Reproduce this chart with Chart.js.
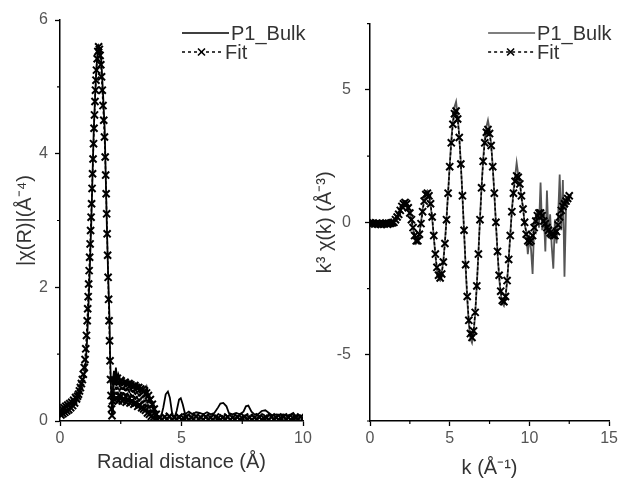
<!DOCTYPE html>
<html>
<head>
<meta charset="utf-8">
<script src="https://cdn.jsdelivr.net/npm/chart.js@4.4.0/dist/chart.umd.min.js"></script>
<style>
body { margin: 0; background: #fff; }
#wrap { position: relative; width: 621px; height: 480px; }
.panel { position: absolute; top: 0; height: 480px; }
</style>
</head>
<body>
<div id="wrap">
  <div class="panel" style="left:0;width:315px"><canvas id="chartR"></canvas></div>
  <div class="panel" style="left:310px;width:311px"><canvas id="chartK"></canvas></div>
</div>
<script>
// left panel: |chi(R)| vs radial distance
var rBulk = [0.0,0.1,0.2,0.3,0.36,0.5,0.6,0.7,0.77,0.85,0.95,1.04,1.1,1.15,1.22,1.29,1.34,1.39,1.45,1.5,
  1.55,1.59,1.64,1.7,1.77,1.84,1.88,1.93,1.98,2.04,2.06,2.1,2.14,2.18,2.22,2.26,2.3,2.35,2.4,2.5,
  2.6,2.7,2.8,2.9,3.0,3.1,3.2,3.3,3.4,3.5,3.57,3.65,3.75,3.85,3.95,4.05,4.15,4.25,4.35,4.44,
  4.52,4.62,4.72,4.8,4.9,4.97,5.05,5.15,5.3,5.45,5.6,5.75,5.9,6.05,6.2,6.35,6.5,6.6,6.72,6.85,
  6.95,7.1,7.25,7.4,7.55,7.65,7.75,7.88,8.0,8.15,8.3,8.45,8.6,8.75,8.9,9.05,9.2,9.35,9.5,9.6,
  9.7,9.85,10.0];
var chiRBulk = [0.15,0.12,0.16,0.14,0.16,0.22,0.28,0.33,0.36,0.5,0.62,0.76,1.1,1.51,2.2,3.0,3.7,4.36,4.9,5.3,
  5.5,5.6,5.55,5.4,4.9,4.36,3.7,2.9,2.2,1.5,1.0,0.5,0.12,0.6,0.75,0.55,0.8,0.6,0.7,0.6,
  0.65,0.55,0.6,0.52,0.58,0.5,0.55,0.45,0.5,0.4,0.5,0.35,0.3,0.2,0.12,0.06,0.05,0.2,0.4,0.44,
  0.35,0.1,0.06,0.15,0.32,0.34,0.25,0.1,0.14,0.1,0.13,0.12,0.1,0.13,0.1,0.12,0.2,0.26,0.27,0.22,
  0.12,0.1,0.12,0.1,0.14,0.22,0.23,0.14,0.1,0.1,0.15,0.16,0.12,0.08,0.1,0.09,0.1,0.08,0.1,0.12,
  0.07,0.08,0.05];

var rFit = [0.00,0.04,0.08,0.12,0.16,0.20,0.24,0.28,0.32,0.36,0.40,0.44,0.48,0.52,0.56,0.60,0.64,0.68,0.72,0.76,
  0.80,0.84,0.88,0.92,0.96,1.00,
  1.03,1.06,1.09,1.12,1.14,1.16,1.18,1.20,1.22,1.24,1.26,1.28,1.30,1.32,1.34,1.36,1.38,1.40,1.42,1.44,
  1.46,1.48,1.50,1.53,1.56,1.59,1.62,1.65,1.68,1.71,1.74,1.77,1.80,1.83,1.86,1.88,1.90,1.92,1.94,1.96,
  1.98,2.00,2.02,2.04,2.06,2.08,2.10,2.12,2.14,
  2.16,2.20,2.24,2.28,2.32,2.36,2.40,2.44,2.48,2.52,2.56,2.60,2.64,2.68,2.72,2.76,2.80,2.84,2.88,2.92,
  2.96,3.00,3.04,3.08,3.12,3.16,3.20,3.24,3.28,3.32,3.36,3.40,3.44,3.48,3.52,3.56,3.60,3.64,3.68,3.72,
  3.76,3.80,3.84,3.88,3.92,3.96,4.00,
  4.1,4.2,4.3,4.4,4.5,4.6,4.7,4.8,4.9,5.0,5.1,5.2,5.3,5.4,5.5,5.6,5.7,5.8,5.9,6.0,
  6.1,6.2,6.3,6.4,6.5,6.6,6.7,6.8,6.9,7.0,7.1,7.2,7.3,7.4,7.5,7.6,7.7,7.8,7.9,8.0,
  8.1,8.2,8.3,8.4,8.5,8.6,8.7,8.8,8.9,9.0,9.1,9.2,9.3,9.4,9.5,9.6,9.7,9.8,9.9,10.0];
var chiRFit = [0.14,0.09,0.18,0.11,0.2,0.13,0.22,0.15,0.24,0.17,0.26,0.2,0.28,0.23,0.31,0.27,0.35,0.33,0.37,0.4,
  0.45,0.5,0.56,0.62,0.7,0.8,
  0.92,1.08,1.28,1.5,1.68,1.86,2.05,2.25,2.45,2.65,2.85,3.05,3.25,3.48,3.7,3.92,4.15,4.38,4.58,4.78,
  4.95,5.1,5.25,5.42,5.53,5.6,5.56,5.47,5.33,5.15,4.95,4.72,4.5,4.25,3.95,3.68,3.4,3.1,2.8,2.48,
  2.15,1.82,1.5,1.2,0.9,0.62,0.38,0.18,0.08,
  0.3,0.62,0.32,0.6,0.34,0.64,0.3,0.58,0.36,0.6,0.3,0.56,0.33,0.58,0.28,0.55,0.32,0.56,0.27,0.54,
  0.3,0.52,0.25,0.53,0.27,0.5,0.22,0.5,0.24,0.48,0.2,0.47,0.18,0.45,0.16,0.42,0.12,0.38,0.1,0.32,
  0.07,0.25,0.05,0.18,0.03,0.1,0.03,
  0.05,0.02,0.06,0.03,0.07,0.02,0.05,0.03,0.06,0.02,0.04,0.06,0.02,0.05,0.03,0.07,0.03,0.05,0.02,0.06,
  0.03,0.05,0.02,0.06,0.04,0.02,0.05,0.03,0.06,0.02,0.05,0.03,0.06,0.02,0.04,0.06,0.03,0.05,0.02,0.05,
  0.03,0.06,0.02,0.04,0.05,0.02,0.06,0.03,0.05,0.02,0.04,0.06,0.03,0.05,0.02,0.04,0.05,0.03,0.06,0.04];

// right panel: k^3 chi(k)
var kGrid = [0.0,0.1,0.2,0.3,0.4,0.5,0.6,0.7,0.8,0.9,1.0,1.1,1.2,1.3,1.4,
  1.5,1.6,1.7,1.8,1.9,2.0,2.1,2.2,2.3,2.4,2.5,2.6,2.7,2.8,2.9,3.0,3.1,3.2,3.3,3.4,
  3.5,3.6,3.7,3.8,3.9,4.0,4.1,4.2,4.3,4.4,4.5,4.6,4.7,4.8,4.9,5.0,5.1,5.2,5.3,5.4,
  5.5,5.6,5.7,5.8,5.9,6.0,6.1,6.2,6.3,6.4,6.5,6.6,6.7,6.8,6.9,7.0,7.1,7.2,7.3,7.4,
  7.5,7.6,7.7,7.8,7.9,8.0,8.1,8.2,8.3,8.4,8.5,8.6,8.7,8.8,8.9,9.0,9.1,9.2,9.3,9.4,
  9.5,9.6,9.7,9.8,9.9,10.0,10.1,10.2,10.3,10.4,10.5,10.6,10.7,10.8,10.9,11.0,11.1,11.2,11.3,11.4,
  11.5,11.6,11.7,11.8,11.9,12.0,12.1,12.2,12.3,12.4,12.5];
var chiKBulk = [0,-0.02,-0.05,-0.03,-0.06,-0.04,-0.08,-0.05,-0.03,-0.06,-0.04,-0.07,-0.05,-0.02,-0.04,
  0.02,0.12,0.25,0.35,0.5,0.62,0.78,0.8,0.68,0.6,0.3,0.12,-0.25,-0.55,-0.8,-0.72,-0.4,0.0,0.5,0.9,
  1.15,1.2,1.05,0.65,0.15,-0.55,-1.25,-1.8,-2.15,-2.2,-1.9,-1.45,-0.75,0.15,1.15,2.15,3.1,3.85,4.35,4.55,
  4.0,3.25,2.2,0.95,-0.35,-1.7,-2.9,-3.85,-4.4,-4.55,-4.2,-3.45,-2.4,-1.15,0.15,1.35,2.4,3.15,3.6,3.85,
  3.5,2.95,2.1,1.05,-0.05,-1.15,-2.1,-2.7,-3.05,-3.15,-2.85,-2.25,-1.4,-0.45,0.45,1.2,1.7,2.25,1.8,1.6,
  0.9,0.6,-0.1,-0.3,-1.2,-0.6,-1.0,-1.95,-0.1,-0.3,0.5,-0.2,1.5,-0.3,0.4,-1.1,1.2,-0.6,0.3,-0.9,
  -1.75,0.1,-0.8,0.2,1.8,-0.3,1.6,-2.05,0.6,0.7,0.95];
var chiKFit = [-0.02,-0.05,-0.03,-0.06,-0.04,-0.07,-0.05,-0.08,-0.04,-0.06,-0.03,-0.07,-0.05,-0.04,-0.02,
  0.0,0.1,0.2,0.3,0.45,0.6,0.7,0.75,0.7,0.55,0.35,0.1,-0.2,-0.5,-0.7,-0.7,-0.45,-0.05,0.4,0.8,
  1.05,1.1,1.0,0.7,0.2,-0.5,-1.2,-1.7,-2.0,-2.1,-1.95,-1.5,-0.8,0.1,1.1,2.1,3.0,3.7,4.1,4.2,
  3.9,3.2,2.2,1.0,-0.3,-1.6,-2.8,-3.7,-4.2,-4.35,-4.1,-3.4,-2.4,-1.2,0.1,1.3,2.3,3.0,3.4,3.5,
  3.35,2.9,2.1,1.1,0.0,-1.1,-2.0,-2.6,-2.95,-3.0,-2.8,-2.2,-1.4,-0.5,0.4,1.1,1.55,1.75,1.7,1.45,
  1.0,0.5,0.0,-0.45,-0.7,-0.75,-0.7,-0.5,-0.2,0.05,0.25,0.35,0.35,0.25,0.05,-0.05,-0.2,-0.3,-0.4,-0.45,
  -0.5,-0.5,-0.35,-0.1,0.2,0.45,0.6,0.7,0.8,0.9,1.0];

var rTicksX = [0, 5, 10], rMinorX = [2.5, 7.5];
var rTicksY = [0, 2, 4, 6], rMinorY = [1, 3, 5];
var kTicksX = [0, 5, 10, 15], kMinorX = [2.5, 7.5, 12.5];
var kTicksY = [-5, 0, 5], kMinorY = [-7.5, -2.5, 2.5, 7.5];

Chart.defaults.font.family = '"Liberation Sans", Arial, sans-serif';

// small outward minor ticks on both axes
var minorTicks = {
  id: 'minorTicks',
  afterDraw: function(chart, args, o) {
    var ctx = chart.ctx, a = chart.chartArea;
    ctx.save();
    ctx.strokeStyle = '#000';
    ctx.lineWidth = 1.2;
    ctx.beginPath();
    o.x.forEach(function(v) {
      var px = chart.scales.x.getPixelForValue(v);
      ctx.moveTo(px, a.bottom); ctx.lineTo(px, a.bottom + 3);
    });
    o.y.forEach(function(v) {
      var py = chart.scales.y.getPixelForValue(v);
      ctx.moveTo(a.left, py); ctx.lineTo(a.left - 3, py);
    });
    ctx.stroke();
    ctx.restore();
  }
};

// legend with line samples, top right of each panel
var lineLegend = {
  id: 'lineLegend',
  afterDraw: function(chart, args, o) {
    var ctx = chart.ctx, a = chart.chartArea;
    var fit = chart.data.datasets[0], bulk = chart.data.datasets[1];
    var x0 = a.right - 121;
    ctx.save();
    ctx.font = '20px "Liberation Sans", Arial, sans-serif';
    ctx.fillStyle = '#333';
    ctx.textBaseline = 'middle';

    ctx.strokeStyle = bulk.borderColor;
    ctx.lineWidth = 1.5;
    ctx.beginPath(); ctx.moveTo(x0, 33); ctx.lineTo(x0 + 47, 33); ctx.stroke();
    ctx.fillText(bulk.label, x0 + 49, 34);

    ctx.strokeStyle = '#000';
    ctx.lineWidth = 1.3;
    ctx.setLineDash([3, 3]);
    ctx.beginPath(); ctx.moveTo(x0, 52); ctx.lineTo(x0 + o.fitDx - 4, 52); ctx.stroke();
    ctx.setLineDash([]);
    var cx = x0 + (o.fitDx - 4) / 2;
    ctx.lineWidth = 1.6;
    ctx.beginPath();
    ctx.moveTo(cx - 3.5, 48.5); ctx.lineTo(cx + 3.5, 55.5);
    ctx.moveTo(cx - 3.5, 55.5); ctx.lineTo(cx + 3.5, 48.5);
    ctx.stroke();
    ctx.fillText(fit.label, x0 + o.fitDx, 53);
    ctx.restore();
  }
};

function makePanel(id, p) {
  var axis = function(min, max, ticks, title, fitSize, horiz, tickPad, titlePad) {
    return {
      type: 'linear', min: min, max: max,
      afterBuildTicks: function(s) { s.ticks = ticks.map(function(v) { return { value: v }; }); },
      afterFit: function(s) { if (horiz) s.height = fitSize; else s.width = fitSize; },
      grid: { drawOnChartArea: false, drawTicks: true, tickLength: 5, tickColor: '#000', tickWidth: 1.3 },
      border: { display: true, color: '#000', width: 1.5 },
      ticks: { color: '#555', font: { size: 16 }, padding: tickPad, autoSkip: false, maxRotation: 0 },
      title: { display: true, text: title, color: '#333', font: { size: 20 }, padding: titlePad }
    };
  };
  return new Chart(document.getElementById(id), {
    type: 'line',
    data: {
      datasets: [{
        label: 'Fit',
        data: p.fitX.map(function(x, i) { return { x: x, y: p.fitY[i] }; }),
        borderColor: '#000', borderWidth: 1.5, borderDash: [3, 2],
        pointStyle: 'crossRot', pointRadius: 5, pointBorderWidth: 2,
        pointBorderColor: '#000', pointBackgroundColor: '#000', tension: 0
      }, {
        label: 'P1_Bulk',
        data: p.bulkX.map(function(x, i) { return { x: x, y: p.bulkY[i] }; }),
        borderColor: p.bulkColor, borderWidth: 1.8, pointRadius: 0, tension: 0
      }]
    },
    options: {
      responsive: true,
      maintainAspectRatio: false,
      animation: false,
      layout: { padding: { top: 20, right: p.padRight, left: 0, bottom: 0 } },
      scales: {
        x: axis(p.xMin, p.xMax, p.ticksX, p.xTitle, 59, true, 3, { top: 0, bottom: p.xTitlePad }),
        y: axis(p.yMin, p.yMax, p.ticksY, p.yTitle, 60, false, p.yTickPad, { top: p.yTitlePad, bottom: 0 })
      },
      plugins: {
        legend: { display: false },
        tooltip: { enabled: false },
        minorTicks: { x: p.minorX, y: p.minorY },
        lineLegend: { fitDx: p.fitDx }
      }
    },
    plugins: [minorTicks, lineLegend]
  });
}

makePanel('chartR', {
  fitX: rFit, fitY: chiRFit, bulkX: rBulk, bulkY: chiRBulk, bulkColor: '#000',
  xMin: 0, xMax: 10, yMin: 0, yMax: 6,
  ticksX: rTicksX, ticksY: rTicksY, minorX: rMinorX, minorY: rMinorY,
  xTitle: 'Radial distance (Å)', yTitle: '|χ(R)|(Å⁻⁴)',
  padRight: 12, yTickPad: 7, xTitlePad: 6, yTitlePad: 13, fitDx: 43
});

makePanel('chartK', {
  fitX: kGrid, fitY: chiKFit, bulkX: kGrid, bulkY: chiKBulk, bulkColor: '#555',
  xMin: 0, xMax: 15, yMin: -7.5, yMax: 7.5,
  ticksX: kTicksX, ticksY: kTicksY, minorX: kMinorX, minorY: kMinorY,
  xTitle: 'k (Å⁻¹)', yTitle: 'k³ χ(k) (Å⁻³)',
  padRight: 9, yTickPad: 14, xTitlePad: 0, yTitlePad: 3, fitDx: 49
});
</script>
</body>
</html>
